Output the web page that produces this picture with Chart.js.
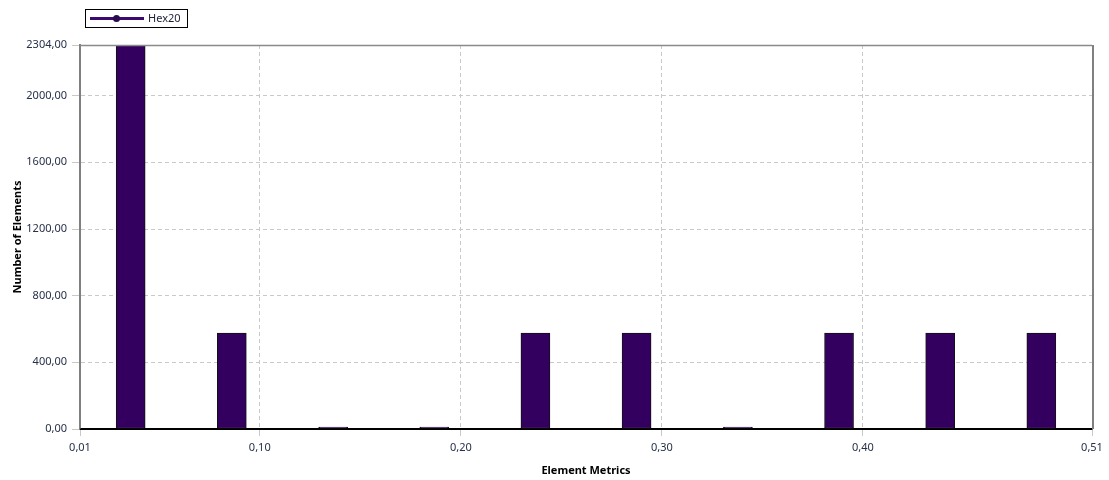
<!DOCTYPE html>
<html>
<head>
<meta charset="utf-8">
<title>Element Metrics</title>
<script src="https://cdn.jsdelivr.net/npm/chart.js@4.4.1/dist/chart.umd.min.js"></script>
<style>
  html, body { margin: 0; padding: 0; background: #ffffff; }
  #wrap { width: 1109px; height: 480px; position: relative; }
</style>
</head>
<body>
<div id="wrap"><canvas id="chart" width="1109" height="480"></canvas></div>
<script>
// Histogram of the Hex20 element quality metric
const seriesName = 'Hex20';
const binCenters = [0.0358, 0.0861, 0.1365, 0.1868, 0.2371, 0.2874, 0.3378, 0.3881, 0.4384, 0.4887];
const elementCounts = [2304, 576, 12, 12, 576, 576, 12, 576, 576, 576];
const xMin = 0.0106;
const xMax = 0.5139;
const xTickValues = [0.0106, 0.10, 0.20, 0.30, 0.40, 0.5139];
const yTickValues = [0, 400, 800, 1200, 1600, 2000, 2304];

const BAR = '#340060';
const TICK_TEXT = '#27304a';
const GRID = '#c9c9c9';
const FONT = "'Noto Sans', 'DejaVu Sans', sans-serif";

const fmt = v => Number(v).toFixed(2).replace('.', ',');

// Frame (top/right border) and the legend box
const framePlugin = {
  id: 'frame',
  afterDatasetsDraw(chart) {
    const { ctx, chartArea: a } = chart;
    ctx.save();
    ctx.strokeStyle = '#8a8a8a';
    ctx.lineWidth = 1.5;
    ctx.beginPath();
    ctx.moveTo(a.left, a.top + 0.5);
    ctx.lineTo(a.right, a.top + 0.5);
    ctx.stroke();
    ctx.lineWidth = 2;
    ctx.strokeStyle = '#808080';
    ctx.beginPath();
    ctx.moveTo(a.right + 1, a.top);
    ctx.lineTo(a.right + 1, a.bottom);
    ctx.stroke();
    // bottom axis line drawn on top of bars
    ctx.strokeStyle = '#000000';
    ctx.lineWidth = 1.5;
    ctx.beginPath();
    ctx.moveTo(a.left, a.bottom + 0.25);
    ctx.lineTo(a.right, a.bottom + 0.25);
    ctx.stroke();
    ctx.restore();
  },
  afterDraw(chart) {
    const { ctx } = chart;
    ctx.save();
    // legend box
    ctx.strokeStyle = '#000000';
    ctx.lineWidth = 1;
    ctx.strokeRect(85.5, 9.5, 102, 18);
    ctx.strokeStyle = '#3c0a6e';
    ctx.lineWidth = 3;
    ctx.beginPath();
    ctx.moveTo(90, 18.5);
    ctx.lineTo(144, 18.5);
    ctx.stroke();
    ctx.fillStyle = '#2a0a50';
    ctx.beginPath();
    ctx.arc(116.5, 18.5, 3.5, 0, Math.PI * 2);
    ctx.fill();
    ctx.fillStyle = '#1c2035';
    ctx.font = '11px ' + FONT;
    ctx.textBaseline = 'middle';
    ctx.fillText(chart.data.datasets[0].label, 148, 18.5);
    ctx.restore();
  }
};

new Chart(document.getElementById('chart'), {
  type: 'bar',
  data: {
    datasets: [{
      label: seriesName,
      data: binCenters.map((x, i) => ({ x: x, y: elementCounts[i] })),
      backgroundColor: BAR,
      borderColor: '#111111',
      borderWidth: 1,
      borderSkipped: false,
      barThickness: 29
    }]
  },
  options: {
    responsive: false,
    animation: false,
    events: [],
    layout: { padding: { left: 0, right: 17, top: 45, bottom: 0 } },
    plugins: { legend: { display: false }, tooltip: { enabled: false } },
    scales: {
      x: {
        type: 'linear',
        min: xMin,
        max: xMax,
        offset: false,
        afterBuildTicks: s => { s.ticks = xTickValues.map(v => ({ value: v })); },
        afterFit: s => { s.height = 51; },
        ticks: {
          callback: v => fmt(v),
          color: TICK_TEXT,
          font: { family: FONT, size: 11 },
          padding: 5,
          maxRotation: 0,
          autoSkip: false
        },
        grid: {
          offset: false,
          color: c => (c.index === 0 || c.index === xTickValues.length - 1) ? 'rgba(0,0,0,0)' : GRID,
          tickColor: '#c8c8c8',
          tickLength: 7,
          tickBorderDash: [],
          lineWidth: 1
        },
        border: { display: true, color: '#000000', width: 1.5, dash: [4, 3] },
        title: {
          display: true,
          text: 'Element Metrics',
          color: '#000000',
          font: { family: FONT, size: 11, weight: 'bold' },
          padding: { top: 4, bottom: 3 }
        }
      },
      y: {
        min: 0,
        max: 2304,
        afterBuildTicks: s => { s.ticks = yTickValues.map(v => ({ value: v })); },
        afterFit: s => { s.width = 80; },
        ticks: {
          callback: v => fmt(v),
          color: TICK_TEXT,
          font: { family: FONT, size: 11 },
          padding: 5,
          autoSkip: false
        },
        grid: {
          color: c => (c.index === 0 || c.index === yTickValues.length - 1) ? 'rgba(0,0,0,0)' : GRID,
          tickColor: '#c8c8c8',
          tickLength: 8,
          tickBorderDash: [],
          lineWidth: 1
        },
        border: { display: true, color: '#808080', width: 2, dash: [4, 3] },
        title: {
          display: true,
          text: 'Number of Elements',
          color: '#000000',
          font: { family: FONT, size: 11, weight: 'bold' },
          padding: { top: 11, bottom: 0 }
        }
      }
    }
  },
  plugins: [framePlugin]
});
</script>
</body>
</html>
